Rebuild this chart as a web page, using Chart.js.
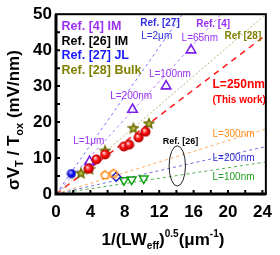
<!DOCTYPE html>
<html>
<head>
<meta charset="utf-8">
<script src="https://cdn.jsdelivr.net/npm/chart.js@4.4.0/dist/chart.umd.min.js"></script>
<style>
  html, body { margin: 0; padding: 0; background: #fff; }
  #wrap { width: 280px; height: 255px; }
</style>
</head>
<body>
<div id="wrap"><canvas id="chart" width="280" height="255"></canvas></div>
<script>
// markers: [1/sqrt(LWeff), sigmaVT/Tox]
const thisWork = [[3.8, 7.0], [4.7, 9.6], [5.7, 11.0], [7.9, 13.2], [8.5, 13.7], [9.6, 15.7], [10.4, 17.3]];
const ref4 = [[3.9, 9.0], [8.9, 23.5], [12.8, 30.0], [15.7, 40.0]];
const ref27 = [[1.8, 5.7]];
const ref28 = [[2.9, 5.9], [3.9, 7.0], [5.7, 12.1], [9.0, 18.4], [10.8, 19.7]];
const ref26L300 = [[5.7, 5.4], [6.7, 5.8]];
const ref26L200 = [[7.0, 4.8]];
const ref26L100 = [[7.9, 3.8], [8.8, 4.0], [10.2, 4.3]];

// guide lines through the origin (start, end)
const fit27 = [[0, 0], [14.7, 50]];
const fit4 = [[0, 0], [19.2, 50]];
const fit28 = [[0, 0], [24.4, 50]];
const fitThisWork = [[0, 0], [24.4, 44.2]];
const fit300 = [[0, 0], [24.4, 18.1]];
const fit200 = [[0, 0], [24.4, 13.2]];
const fit100 = [[0, 0], [24.4, 8.9]];

const xTicks = [0, 4, 8, 12, 16, 20, 24];
const yTicks = [0, 10, 20, 30, 40, 50];
const xMinor = [2, 4, 6, 8, 10, 12, 14, 16, 18, 20, 22, 24];
const yMinor = [5, 10, 15, 20, 25, 30, 35, 40, 45];

// the Ref. [26] ellipse: centre and half axes in data units
const ellipse26 = { x: 14.1, y: 7.8, rx: 0.95, ry: 5.6 };

// text notes placed in data units
const notes = [
  { x: 0.65, y: 46.5, text: 'Ref. [4] IM', color: '#9a30f0', font: 'bold 12.5px' },
  { x: 0.65, y: 42.4, text: 'Ref. [26] IM', color: '#000', font: 'bold 12.5px' },
  { x: 0.65, y: 38.4, text: 'Ref. [27] JL', color: '#1a1aff', font: 'bold 12.5px' },
  { x: 0.65, y: 34.3, text: 'Ref. [28] Bulk', color: '#808000', font: 'bold 12.5px' },
  { x: 9.8, y: 47.6, text: 'Ref. [27]', color: '#3030e0', font: 'bold 10px' },
  { x: 9.9, y: 44.0, text: 'L=2\u03bcm', color: '#3030e0', font: '10px' },
  { x: 16.3, y: 47.3, text: 'Ref. [4]', color: '#9a30f0', font: 'bold 10px' },
  { x: 14.6, y: 43.2, text: 'L=65nm', color: '#9a30f0', font: '10px' },
  { x: 19.6, y: 43.8, text: 'Ref [28]', color: '#808000', font: 'bold 10px' },
  { x: 10.8, y: 33.2, text: 'L=100nm', color: '#9a30f0', font: '10px' },
  { x: 6.3, y: 27.3, text: 'L=200nm', color: '#9a30f0', font: '10px' },
  { x: 18.2, y: 30.3, text: 'L=250nm', color: '#ff0000', font: 'bold 12px' },
  { x: 18.2, y: 26.2, text: '(This work)', color: '#ff0000', font: 'bold 10px' },
  { x: 2.0, y: 14.6, text: 'L=1\u03bcm', color: '#9a30f0', font: '10px' },
  { x: 12.4, y: 14.6, text: 'Ref. [26]', color: '#000', font: 'bold 9px' },
  { x: 18.2, y: 16.5, text: 'L=300nm', color: '#ff8c1a', font: '10px' },
  { x: 18.2, y: 10.0, text: 'L=200nm', color: '#2a2ad0', font: '10px' },
  { x: 18.2, y: 4.6, text: 'L=100nm', color: '#20a020', font: '10px' },
];

const FONT = '"Liberation Sans", Arial, sans-serif';

const toXY = arr => arr.map(([x, y]) => ({ x, y }));

function makeCanvas(size, draw) {
  const c = document.createElement('canvas');
  c.width = size;
  c.height = size;
  draw(c.getContext('2d'), size);
  return c;
}

function sphere(size, light, mid, dark) {
  return makeCanvas(size, (ctx, s) => {
    const r = s / 2 - 0.5;
    const g = ctx.createRadialGradient(s * 0.38, s * 0.35, 0.5, s / 2, s / 2, r);
    g.addColorStop(0, light);
    g.addColorStop(0.45, mid);
    g.addColorStop(1, dark);
    ctx.fillStyle = g;
    ctx.beginPath();
    ctx.arc(s / 2, s / 2, r, 0, Math.PI * 2);
    ctx.fill();
  });
}

function polygon(size, n, inner, fill, stroke) {
  return makeCanvas(size, (ctx, s) => {
    const R = s / 2 - 1.2;
    ctx.beginPath();
    const steps = inner ? n * 2 : n;
    for (let i = 0; i < steps; i++) {
      const r = inner && i % 2 ? R * inner : R;
      const a = -Math.PI / 2 + (i * Math.PI * 2) / steps;
      const px = s / 2 + r * Math.cos(a);
      const py = s / 2 + 0.6 + r * Math.sin(a);
      i ? ctx.lineTo(px, py) : ctx.moveTo(px, py);
    }
    ctx.closePath();
    if (fill) { ctx.fillStyle = fill; ctx.fill(); }
    ctx.lineWidth = 1.5;
    ctx.strokeStyle = stroke;
    ctx.stroke();
  });
}

const redBall = sphere(11, '#ffd0d0', '#ff1010', '#b00000');
const blueBall = sphere(10, '#c0c0ff', '#1515ff', '#0000a0');
const star = polygon(12, 5, 0.45, '#b8b84a', '#6e6e00');
const pentagon = polygon(11, 5, 0, 'rgba(255,255,255,0)', '#ff8c1a');

function markers(label, data, style) {
  return Object.assign({ label, data: toXY(data), showLine: false, order: 0, pointHoverRadius: 5 }, style);
}

function guide(label, data, color, dash, width) {
  return {
    label, data: toXY(data), showLine: true, order: 1, pointRadius: 0,
    borderColor: color, borderWidth: width || 1, borderDash: dash,
  };
}

const decor = {
  id: 'decor',
  afterDatasetsDraw(chart) {
    const { ctx, chartArea: a, scales: { x, y } } = chart;
    ctx.save();

    // ellipse for Ref. [26]
    const cx = x.getPixelForValue(ellipse26.x), cy = y.getPixelForValue(ellipse26.y);
    const rx = x.getPixelForValue(ellipse26.x + ellipse26.rx) - cx;
    const ry = cy - y.getPixelForValue(ellipse26.y + ellipse26.ry);
    ctx.beginPath();
    ctx.ellipse(cx, cy, rx, ry, 0, 0, Math.PI * 2);
    ctx.strokeStyle = '#222';
    ctx.lineWidth = 1;
    ctx.stroke();

    // notes
    ctx.textBaseline = 'middle';
    ctx.textAlign = 'left';
    notes.forEach(n => {
      ctx.font = n.font + ' ' + FONT;
      ctx.fillStyle = n.color;
      ctx.fillText(n.text, x.getPixelForValue(n.x), y.getPixelForValue(n.y));
    });

    // frame
    ctx.strokeStyle = '#000';
    ctx.lineWidth = 2;
    ctx.strokeRect(a.left, a.top, a.right - a.left, a.bottom - a.top);
    ctx.lineWidth = 3;
    ctx.beginPath();
    ctx.moveTo(a.left, a.top);
    ctx.lineTo(a.left, a.bottom);
    ctx.lineTo(a.right, a.bottom);
    ctx.stroke();

    // inward ticks
    ctx.lineWidth = 2;
    ctx.beginPath();
    xMinor.forEach(v => {
      const px = x.getPixelForValue(v);
      ctx.moveTo(px, a.bottom);
      ctx.lineTo(px, a.bottom - 4);
    });
    yMinor.forEach(v => {
      const py = y.getPixelForValue(v);
      ctx.moveTo(a.left, py);
      ctx.lineTo(a.left + 4, py);
    });
    ctx.stroke();

    // axis titles with sub/superscripts
    ctx.fillStyle = '#000';
    ctx.textBaseline = 'alphabetic';
    const xTitle = [
      ['1/(LW', 17, 0], ['eff', 10, 4], [')', 17, 0], ['0.5', 10, -8],
      ['(\u03bcm', 17, 0], ['-1', 10, -8], [')', 17, 0],
    ];
    drawRich(ctx, xTitle, (a.left + a.right) / 2 + 2, 245);

    const yTitle = [
      ['\u03c3V', 17, 0], ['T', 11, 4], [' / T', 17, 0], ['ox', 11, 4], [' (mV/nm)', 17, 0],
    ];
    ctx.translate(19, 120);
    ctx.rotate(-Math.PI / 2);
    drawRich(ctx, yTitle, 0, 0);
    ctx.restore();
  },
};

function drawRich(ctx, parts, cx, baseline) {
  let total = 0;
  parts.forEach(([t, size]) => {
    ctx.font = 'bold ' + size + 'px ' + FONT;
    total += ctx.measureText(t).width;
  });
  let px = cx - total / 2;
  parts.forEach(([t, size, dy]) => {
    ctx.font = 'bold ' + size + 'px ' + FONT;
    ctx.fillText(t, px, baseline + dy);
    px += ctx.measureText(t).width;
  });
}

const tickFont = { family: FONT, size: 17, weight: 'bold' };

new Chart(document.getElementById('chart'), {
  type: 'scatter',
  data: {
    datasets: [
      markers('This work', thisWork, { pointStyle: redBall }),
      markers('Ref. [27] JL', ref27, { pointStyle: blueBall }),
      markers('Ref. [28] Bulk', ref28, { pointStyle: star }),
      markers('Ref. [4] IM', ref4, {
        pointStyle: 'triangle', pointRadius: 5.5, pointBorderWidth: 1.6,
        borderColor: '#7a22e8', backgroundColor: 'rgba(255,255,255,0)',
      }),
      markers('Ref. [26] L=300nm', ref26L300, { pointStyle: pentagon }),
      markers('Ref. [26] L=200nm', ref26L200, {
        pointStyle: 'rectRot', pointRadius: 4.5, pointBorderWidth: 1.5,
        borderColor: '#1a1ac8', backgroundColor: 'rgba(255,255,255,0)',
      }),
      markers('Ref. [26] L=100nm', ref26L100, {
        pointStyle: 'triangle', rotation: 180, pointRadius: 5, pointBorderWidth: 1.5,
        borderColor: '#10a010', backgroundColor: 'rgba(255,255,255,0)',
      }),
      guide('fit [27]', fit27, '#7a7aff', [3, 3]),
      guide('fit [4]', fit4, '#b47cff', [3, 3]),
      guide('fit [28]', fit28, '#b4b47a', [2, 2]),
      guide('fit this work', fitThisWork, '#ff1a1a', [6, 5], 1.5),
      guide('fit 300nm', fit300, '#ffaa60', [3, 3]),
      guide('fit 200nm', fit200, '#7070e0', [3, 3]),
      guide('fit 100nm', fit100, '#50b050', [3, 3]),
    ],
  },
  options: {
    responsive: false,
    animation: false,
    events: [],
    layout: { padding: { top: 9, right: 4, left: 0, bottom: 0 } },
    plugins: { legend: { display: false }, tooltip: { enabled: false } },
    scales: {
      x: {
        type: 'linear', min: 0, max: 24.4,
        afterBuildTicks: s => { s.ticks = xTicks.map(v => ({ value: v })); },
        afterFit: s => { s.height = 61; },
        ticks: { font: tickFont, color: '#000', padding: 8, maxRotation: 0, autoSkip: false },
        grid: { display: false, drawTicks: false },
        border: { display: false },
      },
      y: {
        type: 'linear', min: 0, max: 50,
        afterBuildTicks: s => { s.ticks = yTicks.map(v => ({ value: v })); },
        afterFit: s => { s.width = 56; },
        ticks: { font: tickFont, color: '#000', padding: 4, autoSkip: false },
        grid: { display: false, drawTicks: false },
        border: { display: false },
      },
    },
  },
  plugins: [decor],
});
</script>
</body>
</html>
